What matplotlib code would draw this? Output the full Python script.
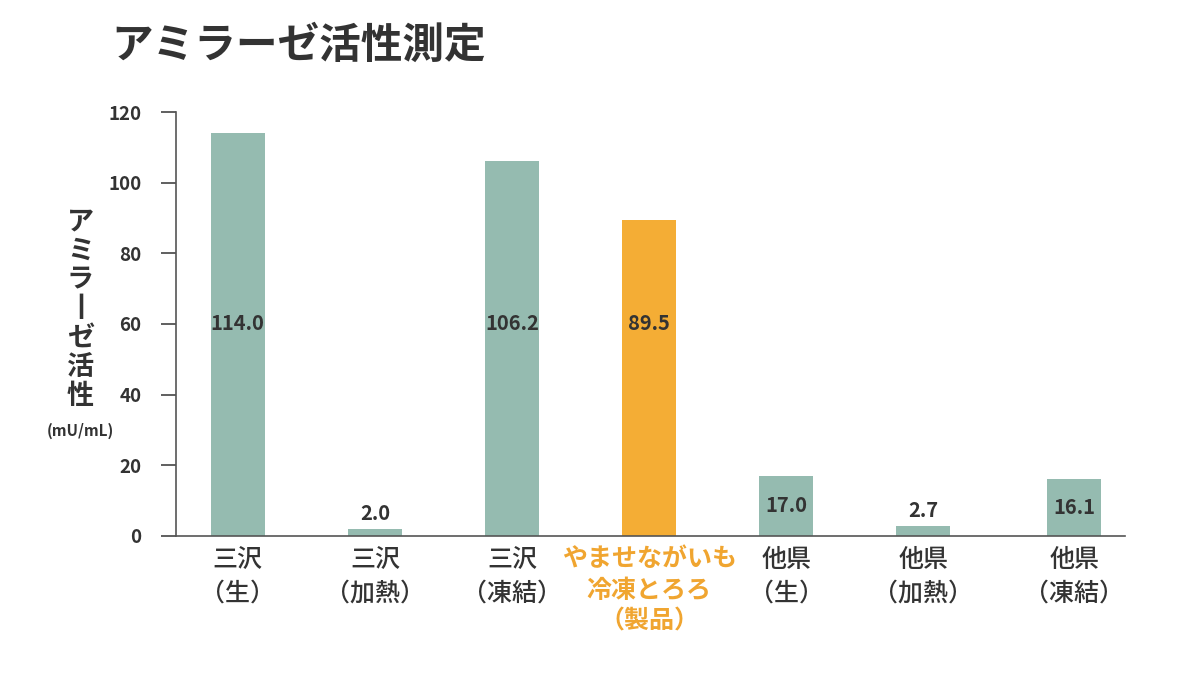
import numpy as np
import matplotlib
matplotlib.use("Agg")
import matplotlib.pyplot as plt

plt.rcParams['font.family'] = ['Noto Sans CJK JP', 'DejaVu Sans']

# データ
categories = ["三沢\n（生）", "三沢\n（加熱）", "三沢\n（凍結）", "やませながいも\n冷凍とろろ\n（製品）",
              "他県\n（生）", "他県\n（加熱）", "他県\n（凍結）"]
values = [114.0, 2.0, 106.2, 89.5, 17.0, 2.7, 16.1]
highlight = [False, False, False, True, False, False, False]
y_ticks = [0, 20, 40, 60, 80, 100, 120]

# 見た目
positions = np.array([0, 1, 2, 3, 4, 5, 6.1])
teal = "#95bbb0"
orange = "#f4ad35"
orange_text = "#f0a530"
dark = "#333333"

fig = plt.figure(figsize=(12, 7), dpi=100)
ax = fig.add_axes([0.1467, 0.2343, 0.7908, 0.6057])

colors = [orange if h else teal for h in highlight]
bars = ax.bar(positions, values, width=0.395, color=colors, zorder=2)

# 値ラベル
for x, v in zip(positions, values):
    if v > 50:
        y, va = 60, "center"
    elif v > 10:
        y, va = v / 2, "center"
    else:
        y, va = v + 1.5, "bottom"
    ax.text(x, y, f"{v:.1f}", ha="center", va=va, fontsize=14.5,
            fontweight="bold", color=dark, zorder=3)

ax.set_ylim(0, 120)
ax.set_xlim(-0.45, 6.47)
ax.set_yticks(y_ticks)
ax.set_yticklabels([str(t) for t in y_ticks], fontsize=13.5, fontweight="bold", color=dark)
ax.tick_params(axis="y", length=11, width=1.2, color="#444444", pad=14)
ax.set_xticks([])

for s in ["top", "right"]:
    ax.spines[s].set_visible(False)
ax.spines["left"].set_color("#555555")
ax.spines["bottom"].set_color("#555555")
ax.spines["left"].set_linewidth(1.2)
ax.spines["bottom"].set_linewidth(1.2)

# カテゴリラベル
for x, label, h in zip(positions, categories, highlight):
    ax.text(x, -3.2, label, ha="center", va="top", fontsize=18,
            fontweight="bold" if h else "medium",
            color=orange_text if h else dark, linespacing=1.38)

# 縦書きの軸ラベル
ylabel_chars = ["ア", "ミ", "ラ", "丨", "ゼ", "活", "性"]
fig.text(0.067, 0.414, "\n".join(ylabel_chars), ha="center", va="bottom",
         fontsize=19.5, fontweight="bold", color=dark, linespacing=1.05)
fig.text(0.067, 0.385, "(mU/mL)", ha="center", va="center",
         fontsize=11, fontweight="bold", color=dark)

# タイトル
fig.text(0.093, 0.935, "アミラーゼ活性測定", ha="left", va="center",
         fontsize=30, fontweight="bold", color=dark)

fig.savefig("out.png", dpi=100, facecolor="white")
